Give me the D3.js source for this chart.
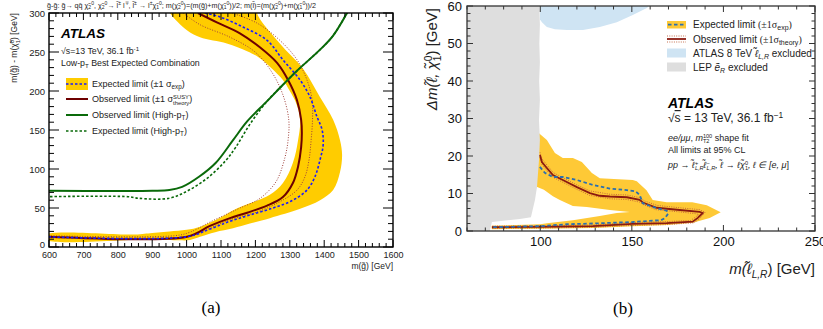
<!DOCTYPE html>
<html>
<head>
<meta charset="utf-8">
<script src="https://cdn.jsdelivr.net/npm/d3@7"></script>
<style>
  body { margin: 0; background: #fff; }
  svg { display: block; }
  text { font-family: "Liberation Sans", Arial, sans-serif; fill: #222; }
</style>
</head>
<body>
<svg id="chart" width="823" height="329"></svg>
<script>
// ---------- panel (a): m(gluino) vs m(gluino)-m(chi1) ----------
const bandA = [ // expected +-1 sigma band, outer edge then inner edge
  [1205,300],[1271,261],[1338,229],[1388,192],[1426,163],[1446,137],[1452,118],[1446,96],
  [1426,73],[1388,60],[1330,49],[1242,37],[1184,30],[1135,24],[1083,19],[1039,13],[1010,9],
  [980,8.5],[900,9.5],[590,9.5],
  [590,15.5],[850,16],[900,18],[950,20],[1000,22],[1040,26],[1100,38],[1140,48],[1184,56],
  [1242,67],[1280,82],[1309,108],[1324,137],[1330,163],[1318,185],[1300,200],[1280,214],
  [1250,228],[1210,243],[1176,251],[1117,261],[1039,269],[1001,278],[952,300],[945,310],[1210,310]
];
const expA = [[1053,300],[1097,295],[1164,282],[1234,265],[1280,240],[1330,214],[1359,192],[1379,167],
  [1394,150],[1397,131],[1388,112],[1373,90],[1350,73],[1309,60],[1251,50],[1184,41],[1126,33],
  [1068,23],[1001,13.2],[590,13.2]];
const obsA = [[1033,300],[1088,288],[1155,274],[1213,256],[1263,236],[1295,214],[1321,188],[1333,163],
  [1335,146],[1333,128],[1324,103],[1309,82],[1280,64],[1234,53],[1176,44],[1126,37],[1068,27],
  [1001,13.2],[590,13.2]];
const obsTheoryDnA = [[990,300],[1039,285],[1126,269],[1199,250],[1248,224],[1280,195],[1297,163],
  [1295,137],[1286,115],[1263,86],[1234,70],[1205,60],[1155,50],[1126,44],[1068,32],[1010,19],
  [966,14.5],[590,14.5]];
const obsTheoryUpA = [[1132,300],[1205,287],[1271,265],[1321,240],[1350,214],[1365,188],[1366,163],
  [1362,137],[1356,112],[1344,90],[1321,73],[1271,58],[1205,45],[1126,35],[1068,24],[1010,14],
  [960,12],[590,12]];
const obsHighPtA = [[590,72],[900,72],[950,73],[987,77],[1036,90],[1085,108],[1135,137],[1176,161],
  [1234,187],[1280,208],[1321,226],[1388,253],[1426,271],[1470,303]];
const expHighPtA = [[590,64.5],[830,64.5],[860,62.5],[950,62.5],[1007,73],[1065,90],[1114,111],
  [1143,128],[1185,158],[1234,187],[1280,208],[1321,226],[1388,253],[1426,271],[1470,303]];
const xTicksA = [600,700,800,900,1000,1100,1200,1300,1400,1500,1600];
const yTicksA = [0,50,100,150,200,250,300];

// ---------- panel (b): m(slepton) vs delta m ----------
const lepRegionB = [[55,-1],[72.5,-1],[72.5,0],[73.6,2.4],[88.9,3.2],[94.9,3.7],[97.1,8.3],[98.2,11.7],
  [99.3,18.9],[99.8,24.3],[99.3,29.6],[99.8,35],[99.4,40],[99.8,45],[99.5,50],[99.8,55],[99.4,61],[55,61]];
const atlas8RegionB = [[99.8,61],[99.8,56.5],[100.9,55.7],[103.6,54.4],[108,53.8],[114.5,53.6],
  [123.3,53.6],[132.5,54.4],[141.8,55.7],[150.5,57.6],[158.2,59.5],[162,61]];
const bandB = [
  [97,26.5],[99.3,26.1],[103.6,24.3],[108,20.8],[112.3,19.5],[117.8,19.5],[122.7,18.4],[128.2,15.5],
  [132.5,14.1],[150.5,13.6],[152.7,13.3],[158,10.9],[161.4,8.3],[169,7.7],[183,7.7],[190.9,6.9],[198.5,5],
  [192.5,3.5],[183.2,2.2],[169,1.6],[150.5,1.3],[128.7,0.8],[100,0.6],[73.5,0.5],
  [73.5,1.4],[100,1.8],[103.6,2.1],[117.8,2.9],[132.5,4],[141.8,4.8],[148.9,5.1],
  [138,5.6],[125.4,6.4],[117.8,6.7],[110.7,8.3],[106.9,9.3],[102,11],[97,12]
];
const obsB = [[99.8,20.3],[100.9,18.4],[103.6,16.8],[106.9,14.9],[112.3,13.6],[120,11.7],[127.1,10.1],
  [132.5,9.4],[138,9.2],[147.3,9.0],[154.3,8.3],[156,7.6],[163.6,6.2],[176.1,5.6],[187,5.1],[188.7,4.8],
  [186,3.5],[183.2,2.5],[169,2.1],[150.5,1.9],[128.7,1.3],[99.8,1.1],[73.6,1.0]];
const obsTheoryUpB = [[99.8,21],[101,19.2],[104,17.4],[107,15.6],[112.3,14.2],[120,12.3],[127,10.7],
  [138,9.8],[147.3,9.6],[154.3,8.9],[157,8.0],[164,6.8],[176,6.2],[187,5.7],[190,5.0],[187,3.3],
  [184,2.2],[169,1.7],[150.5,1.5],[128.7,1.0],[99.8,0.8],[73.6,0.7]];
const obsTheoryDnB = [[99.8,19.6],[101,17.7],[103.5,16.2],[107,14.3],[112.3,13.0],[120,11.1],[127,9.5],
  [138,8.6],[147.3,8.4],[154.3,7.7],[156,7.1],[163,5.7],[176,5.1],[185,4.6],[186.5,4.4],[184.5,3.6],
  [182,2.8],[169,2.5],[150.5,2.3],[128.7,1.6],[99.8,1.4],[73.6,1.3]];
const expB = [[99.8,17.1],[102.5,15.5],[106.9,14.4],[112.3,14.4],[120,13.6],[128.7,12.3],[138,11.3],
  [147.3,10.9],[152,10.6],[154.3,9.6],[156,7.4],[158,7.0],[163.6,6.1],[169,5.4],[169.8,4.6],[168,3.4],
  [166,2.9],[150.5,2.4],[128.7,2.0],[114.5,1.8],[99.8,1.3],[73.6,1.0]];
const xTicksB = [100,150,200,250];
const yTicksB = [0,10,20,30,40,50,60];

const svg = d3.select("#chart");
const tilde = "\u0303";
const chi = "\u03C7" + tilde;

// rich text: parts = [text, shiftPx, scale, extra-style, stackBack]
function rich(g, x, y, size, parts, attrs) {
  const t = g.append("text").attr("x", x).attr("y", y).style("font-size", size + "px");
  if (attrs) Object.entries(attrs).forEach(([k, v]) => t.attr(k, v));
  let cur = 0, prev = null, pad = 0;
  parts.forEach(p => {
    const [s, shift = 0, scale = 1, style = null, back = false] = p;
    const ts = t.append("tspan").attr("dy", shift - cur).style("font-size", (size * scale) + "px").text(s);
    if (style) ts.attr("style", ts.attr("style") + ";" + style);
    if (back && prev) {
      const w1 = prev.node().getComputedTextLength();
      ts.attr("dx", -w1);
      pad = Math.max(0, w1 - ts.node().getComputedTextLength());
    } else if (pad) {
      ts.attr("dx", pad); pad = 0;
    }
    cur = shift; prev = ts;
  });
  return t;
}

function frameTicks(g, x, y, o) {
  const [x0, x1] = x.range(), [y0, y1] = y.range();
  const tk = (a, b, c, d, w) => g.append("line").attr("x1", a).attr("y1", b).attr("x2", c).attr("y2", d)
    .attr("stroke", o.color).attr("stroke-width", w || 1);
  o.xMinor.forEach(v => { tk(x(v), y0, x(v), y0 - o.xmn); tk(x(v), y1, x(v), y1 + o.xmn); });
  o.xMajor.forEach(v => { tk(x(v), y0, x(v), y0 - o.xmj); tk(x(v), y1, x(v), y1 + o.xmj); });
  o.yMinor.forEach(v => { tk(x0, y(v), x0 + o.ymn, y(v)); tk(x1, y(v), x1 - o.ymn, y(v)); });
  o.yMajor.forEach(v => { tk(x0, y(v), x0 + o.ymj, y(v)); tk(x1, y(v), x1 - o.ymj, y(v)); });
  g.append("rect").attr("x", x0).attr("y", y1).attr("width", x1 - x0).attr("height", y0 - y1)
    .attr("fill", "none").attr("stroke", o.color).attr("stroke-width", o.fw);
}

// ================= panel (a) =================
const xa = d3.scaleLinear().domain([600, 1600]).range([49, 393]);
const ya = d3.scaleLinear().domain([0, 300]).range([247, 13]);
const ga = svg.append("g");
svg.append("clipPath").attr("id", "clipA").append("rect")
  .attr("x", 49).attr("y", 13).attr("width", 344).attr("height", 234);
const pa = ga.append("g").attr("clip-path", "url(#clipA)");
const lineA = d3.line().x(d => xa(d[0])).y(d => ya(d[1])).curve(d3.curveCatmullRom.alpha(0.5));
const bandLineA = d3.line().x(d => xa(d[0])).y(d => ya(d[1])).curve(d3.curveCatmullRomClosed.alpha(0.5));

pa.append("path").attr("d", bandLineA(bandA)).attr("fill", "#ffcc00");
[obsTheoryDnA, obsTheoryUpA].forEach(s => pa.append("path").attr("d", lineA(s)).attr("fill", "none")
  .attr("stroke", "#a0403a").attr("stroke-width", 1).attr("stroke-dasharray", "1,1.6"));
pa.append("path").attr("d", lineA(obsA)).attr("fill", "none").attr("stroke", "#6e0000").attr("stroke-width", 2);
pa.append("path").attr("d", lineA(expA)).attr("fill", "none").attr("stroke", "#1a1aff").attr("stroke-width", 1.6)
  .attr("stroke-dasharray", "2.5,2");
pa.append("path").attr("d", lineA(obsHighPtA)).attr("fill", "none").attr("stroke", "#0a6a0a").attr("stroke-width", 2);
pa.append("path").attr("d", lineA(expHighPtA)).attr("fill", "none").attr("stroke", "#0a6a0a").attr("stroke-width", 1.6)
  .attr("stroke-dasharray", "2.5,2");

frameTicks(ga, xa, ya, {
  color: "#000", fw: 1.4,
  xMajor: xTicksA, xMinor: d3.range(600, 1601, 20).filter(v => v % 100),
  yMajor: yTicksA, yMinor: d3.range(0, 301, 10).filter(v => v % 50),
  xmj: 7, xmn: 4, ymj: 10, ymn: 5
});
ga.append("g").attr("transform", "translate(0,247)")
  .call(d3.axisBottom(xa).tickValues(xTicksA).tickFormat(d3.format("d")).tickSize(0).tickPadding(5))
  .call(g => g.select(".domain").remove())
  .selectAll("text").style("font-size", "9px").style("fill", "#222").attr("font-family", null);
ga.append("g").attr("transform", "translate(49,0)")
  .call(d3.axisLeft(ya).tickValues(yTicksA).tickSize(0).tickPadding(4))
  .call(g => g.select(".domain").remove())
  .selectAll("text").style("font-size", "9.5px").style("fill", "#222").attr("font-family", null)
  .attr("dy", d => d === 0 ? "0.1em" : "0.32em");

rich(ga, 393, 269, 8.5, [["m(g" + tilde + ") [GeV]"]], { "text-anchor": "end" });
rich(ga, 0, 0, 8.5, [["m(g" + tilde + ") - m(" + chi], ["1", 2.5, 0.7], ["0", -3.5, 0.7, null, true],
  [") [GeV]", 0]], { "text-anchor": "end", transform: "translate(17,13) rotate(-90)" });

// title line (scripts placed side by side)
const sc = (a, b) => [[a, 1.6, 0.7], [b, -2.2, 0.7]];
rich(ga, 47, 7.5, 7.2, [
  ["g" + tilde + "-g" + tilde + ": g" + tilde + "\u2192 qq\u0304 " + chi], ...sc("2", "0"),
  [", " + chi, 0], ...sc("2", "0"), ["\u2192 l" + tilde, 0], ["\u00B1", -2.2, 0.7], [" l", 0], ["\u2213", -2.2, 0.7],
  [", l" + tilde, 0], ["\u00B1", -2.2, 0.7], [" \u2192 l", 0], ["\u00B1", -2.2, 0.7], [chi, 0], ...sc("1", "0"),
  ["; m(" + chi, 0], ...sc("2", "0"), [")=(m(g" + tilde + ")+m(" + chi, 0], ...sc("1", "0"),
  ["))/2; m(l" + tilde + ")=(m(" + chi, 0], ...sc("2", "0"), [")+m(" + chi, 0], ...sc("1", "0"), ["))/2", 0]
]);

// labels in panel (a)
ga.append("text").attr("x", 61).attr("y", 38).text("ATLAS")
  .style("font-size", "13.5px").style("font-weight", "bold").style("font-style", "italic").style("fill", "#000");
rich(ga, 61, 54, 8.8, [["\u221As=13 TeV, 36.1 fb"], ["-1", -3, 0.7]]);
rich(ga, 61, 66, 8.8, [["Low-p"], ["T", 2, 0.7], [" Best Expected Combination", 0]]);

const legA = [
  { y: 84, parts: [["Expected limit (\u00B11 \u03C3"], ["exp", 2, 0.7], [")", 0]] },
  { y: 99, parts: [["Observed limit (\u00B11 \u03C3"], ["SUSY", -3.5, 0.65], ["theory", 2.5, 0.65, null, true], [")", 0]] },
  { y: 115, parts: [["Observed limit (High-p"], ["T", 2, 0.7], [")", 0]] },
  { y: 131, parts: [["Expected limit (High-p"], ["T", 2, 0.7], [")", 0]] }
];
ga.append("rect").attr("x", 66).attr("y", 78).attr("width", 22).attr("height", 12).attr("fill", "#ffcc00");
ga.append("line").attr("x1", 66).attr("x2", 88).attr("y1", 84).attr("y2", 84)
  .attr("stroke", "#1a1aff").attr("stroke-width", 1.6).attr("stroke-dasharray", "2.5,2");
ga.append("line").attr("x1", 66).attr("x2", 88).attr("y1", 99).attr("y2", 99).attr("stroke", "#6e0000").attr("stroke-width", 2);
ga.append("line").attr("x1", 66).attr("x2", 88).attr("y1", 115).attr("y2", 115).attr("stroke", "#0a6a0a").attr("stroke-width", 2);
ga.append("line").attr("x1", 66).attr("x2", 88).attr("y1", 131).attr("y2", 131).attr("stroke", "#0a6a0a")
  .attr("stroke-width", 1.6).attr("stroke-dasharray", "2.5,2");
legA.forEach(r => rich(ga, 92, r.y + 3.2, 9, r.parts));

svg.append("text").attr("x", 211).attr("y", 313).attr("text-anchor", "middle").text("(a)")
  .style("font-family", "'Liberation Serif', 'Times New Roman', serif").style("font-size", "17px").style("fill", "#000");

// ================= panel (b) =================
const xb = d3.scaleLinear().domain([60, 250]).range([467, 815]);
const yb = d3.scaleLinear().domain([0, 60]).range([231, 6]);
const gb = svg.append("g");
svg.append("clipPath").attr("id", "clipB").append("rect")
  .attr("x", 467).attr("y", 6).attr("width", 348).attr("height", 225);
const pb = gb.append("g").attr("clip-path", "url(#clipB)");
const lineB = d3.line().x(d => xb(d[0])).y(d => yb(d[1]));

pb.append("path").attr("d", lineB(atlas8RegionB) + "Z").attr("fill", "#cfe4f3");
pb.append("path").attr("d", lineB(bandB) + "Z").attr("fill", "#fec936");
[obsTheoryUpB, obsTheoryDnB].forEach(s => pb.append("path").attr("d", lineB(s)).attr("fill", "none")
  .attr("stroke", "#c0603a").attr("stroke-width", 0.9).attr("stroke-dasharray", "1,1.3"));
pb.append("path").attr("d", lineB(obsB)).attr("fill", "none").attr("stroke", "#8b1a10").attr("stroke-width", 1.8);
pb.append("path").attr("d", lineB(expB)).attr("fill", "none").attr("stroke", "#2a6fb0").attr("stroke-width", 1.8)
  .attr("stroke-dasharray", "3.5,2.5");
pb.append("path").attr("d", lineB(lepRegionB) + "Z").attr("fill", "#dedede");

frameTicks(gb, xb, yb, {
  color: "#333", fw: 1.3,
  xMajor: xTicksB, xMinor: d3.range(60, 251, 10).filter(v => v % 50),
  yMajor: yTicksB, yMinor: d3.range(0, 61, 2).filter(v => v % 10),
  xmj: 6, xmn: 3.5, ymj: 6, ymn: 3.5
});
gb.append("g").attr("transform", "translate(0,231)")
  .call(d3.axisBottom(xb).tickValues(xTicksB).tickSize(0).tickPadding(6))
  .call(g => g.select(".domain").remove())
  .selectAll("text").style("font-size", "13px").style("fill", "#111").attr("font-family", null);
gb.append("g").attr("transform", "translate(467,0)")
  .call(d3.axisLeft(yb).tickValues(yTicksB).tickSize(0).tickPadding(5))
  .call(g => g.select(".domain").remove())
  .selectAll("text").style("font-size", "13px").style("fill", "#111").attr("font-family", null);

const lt = "\u2113" + tilde;
rich(gb, 815, 274, 15, [["m", 0, 1, "font-style:italic"], ["(" + lt, 0, 1, "font-style:italic"],
  ["L,R", 3.5, 0.68, "font-style:italic"], [") [GeV]", 0]], { "text-anchor": "end" });
rich(gb, 0, 0, 15, [["\u0394m(" + lt + ", " + chi, 0, 1, "font-style:italic"], ["0", -5, 0.68, null],
  ["1", 3.5, 0.68, null, true], [") [GeV]", 0]], { "text-anchor": "end", transform: "translate(437,8) rotate(-90)" });

// legend (b)
gb.append("rect").attr("x", 667).attr("y", 21).attr("width", 19).attr("height", 7.5).attr("fill", "#fec936");
gb.append("line").attr("x1", 668).attr("x2", 686).attr("y1", 24.7).attr("y2", 24.7)
  .attr("stroke", "#2a6fb0").attr("stroke-width", 1.8).attr("stroke-dasharray", "3.5,2.5");
[36, 42].forEach(v => gb.append("line").attr("x1", 667).attr("x2", 686).attr("y1", v).attr("y2", v)
  .attr("stroke", "#c0603a").attr("stroke-width", 0.9).attr("stroke-dasharray", "1,1.3"));
gb.append("line").attr("x1", 667).attr("x2", 686).attr("y1", 39).attr("y2", 39).attr("stroke", "#8b1a10").attr("stroke-width", 1.8);
gb.append("rect").attr("x", 667).attr("y", 48.5).attr("width", 19).attr("height", 9).attr("fill", "#cfe4f3");
gb.append("rect").attr("x", 667).attr("y", 62.5).attr("width", 19).attr("height", 9).attr("fill", "#dedede");
const serif = "font-family:'Liberation Serif','Times New Roman',serif";
rich(gb, 693, 28.2, 10, [["Expected limit "], ["(\u00B11\u03C3", 0, 1, serif], ["exp", 2, 0.7], [")", 0, 1, serif]]);
rich(gb, 693, 42.5, 10, [["Observed limit "], ["(\u00B11\u03C3", 0, 1, serif], ["theory", 2, 0.7], [")", 0, 1, serif]]);
rich(gb, 693, 56.7, 10, [["ATLAS 8 TeV "], [lt, 0, 1, "font-style:italic"], ["L,R", 2, 0.7, "font-style:italic"], [" excluded", 0]]);
rich(gb, 693, 70.7, 10, [["LEP "], ["e" + tilde, 0, 1, "font-style:italic"], ["R", 2, 0.7, "font-style:italic"], [" excluded", 0]]);

gb.append("text").attr("x", 668).attr("y", 108).text("ATLAS")
  .style("font-size", "14px").style("font-weight", "bold").style("font-style", "italic").style("fill", "#000");
rich(gb, 668, 122, 12, [["\u221A"], ["s", 0, 1, "text-decoration:overline"], [" = 13 TeV, 36.1 fb"], ["\u22121", -4, 0.7]]);
rich(gb, 668, 141, 9, [["ee/\u03BC\u03BC", 0, 1, "font-style:italic"], [", "], ["m", 0, 1, "font-style:italic"],
  ["100", -3.2, 0.62], ["T2", 2.2, 0.62, null, true], [" shape fit", 0]]);
rich(gb, 668, 153, 9, [["All limits at 95% CL"]]);
rich(gb, 668, 168, 9, [["pp \u2192 " + lt, 0, 1, "font-style:italic"], ["+", -3, 0.62], ["L,R", 2.2, 0.62, "font-style:italic", true],
  [lt, 0, 1, "font-style:italic"], ["\u2212", -3, 0.62], ["L,R", 2.2, 0.62, "font-style:italic", true],
  [", " + lt + " \u2192 \u2113" + chi, 0, 1, "font-style:italic"], ["0", -3, 0.62], ["1", 2.2, 0.62, null, true],
  [", \u2113 \u2208 [", 0, 1, "font-style:italic"], ["e, \u03BC", 0, 1, "font-style:italic"], ["]", 0]]);

svg.append("text").attr("x", 623).attr("y", 314).attr("text-anchor", "middle").text("(b)")
  .style("font-family", "'Liberation Serif', 'Times New Roman', serif").style("font-size", "17px").style("fill", "#000");
</script>
</body>
</html>
